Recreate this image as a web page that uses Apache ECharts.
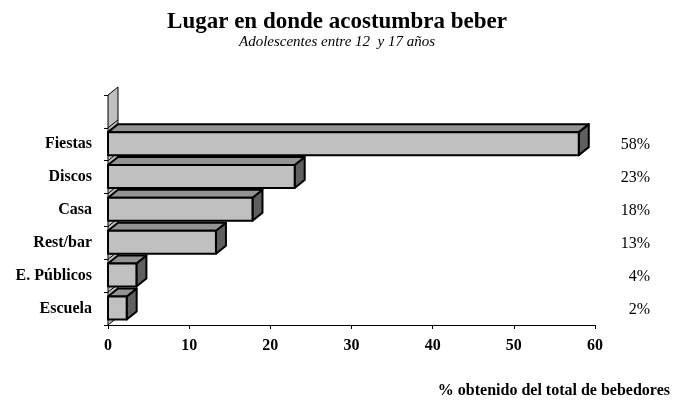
<!DOCTYPE html>
<html>
<head>
<meta charset="utf-8">
<script src="https://cdn.jsdelivr.net/npm/echarts@6/dist/echarts.min.js"></script>
<style>html,body{margin:0;padding:0;background:#fff;}#c{width:674px;height:400px;}</style>
</head>
<body>
<div id="c"></div>
<script>
// Data (top to bottom as shown)
const categories = ['Fiestas', 'Discos', 'Casa', 'Rest/bar', 'E. Públicos', 'Escuela'];
const values = [58, 23, 17.8, 13.3, 3.5, 2.3];
const pctLabels = ['58%', '23%', '18%', '13%', '4%', '2%'];
const xTicks = [0, 10, 20, 30, 40, 50, 60];

const FONT = '"Liberation Serif", "Times New Roman", serif';
const DX = 10, DY = -8;

// y category axis (bottom to top) with an empty band at top
const yCats = categories.slice().reverse().concat(['']);
const barData = categories.map((c, i) => [values[i], categories.length - 1 - i]);
const lblData = categories.map((c, i) => [0, categories.length - 1 - i, pctLabels[i]]);

const chart = echarts.init(document.getElementById('c'));
chart.setOption({
  animation: false,
  backgroundColor: '#fff',
  title: [
    {
      text: 'Lugar en donde acostumbra beber',
      subtext: 'Adolescentes entre 12  y 17 años',
      left: 'center', top: 6, itemGap: 1,
      textStyle: { fontFamily: FONT, fontWeight: 'bold', fontSize: 23, color: '#000' },
      subtextStyle: { fontFamily: FONT, fontStyle: 'italic', fontSize: 15, color: '#000' }
    },
    {
      text: '% obtenido del total de bebedores',
      right: 4, bottom: 1, padding: 0,
      textStyle: { fontFamily: FONT, fontWeight: 'bold', fontSize: 16, color: '#000' }
    }
  ],
  grid: { left: 108, right: 79, top: 95, bottom: 75, containLabel: false },
  xAxis: {
    type: 'value', min: xTicks[0], max: xTicks[xTicks.length - 1], interval: 10,
    axisLine: { show: true, lineStyle: { color: '#000', width: 1 } },
    axisTick: { show: true, length: 4, lineStyle: { color: '#000' } },
    axisLabel: { fontFamily: FONT, fontWeight: 'bold', fontSize: 16, color: '#000', margin: 13 },
    splitLine: { show: false }
  },
  yAxis: {
    type: 'category', data: yCats,
    axisLine: { show: true, lineStyle: { color: '#000', width: 1 } },
    axisTick: { show: true, length: 4, lineStyle: { color: '#000' } },
    axisLabel: { fontFamily: FONT, fontWeight: 'bold', fontSize: 16, color: '#000', margin: 16 },
    splitLine: { show: false }
  },
  series: [
    {
      type: 'custom', z: 1, silent: true,
      data: [[0, 0]],
      renderItem: function (params, api) {
        const cs = params.coordSys;
        const x = cs.x, y = cs.y, h = cs.height;
        const n = yCats.length;
        const bw = h / n;
        const children = [{
          type: 'polygon',
          shape: { points: [[x, y], [x + DX, y + DY], [x + DX, y + h + DY], [x, y + h]] },
          style: { fill: '#c0c0c0', stroke: '#000', lineWidth: 1 }
        }];
        for (let k = 1; k < n; k++) {
          const yy = y + k * bw;
          children.push({
            type: 'line',
            shape: { x1: x, y1: yy, x2: x + DX, y2: yy + DY },
            style: { stroke: '#000', lineWidth: 1 }
          });
        }
        return { type: 'group', children: children };
      }
    },
    {
      type: 'custom', z: 2, silent: true,
      encode: { x: 0, y: 1 },
      data: barData,
      renderItem: function (params, api) {
        const v = api.value(0), c = api.value(1);
        const p0 = api.coord([0, c]);
        const p1 = api.coord([v, c]);
        const bw = api.size([0, 1])[1];
        const top = p0[1] - bw * 0.37;
        const bot = p0[1] + bw * 0.33;
        const x0 = p0[0], x1 = p1[0];
        const st = { stroke: '#000', lineWidth: 2, lineJoin: 'round' };
        return {
          type: 'group',
          children: [
            { type: 'polygon', shape: { points: [[x1, top], [x1 + DX, top + DY], [x1 + DX, bot + DY], [x1, bot]] },
              style: Object.assign({ fill: '#5f5f5f' }, st) },
            { type: 'polygon', shape: { points: [[x0, top], [x0 + DX, top + DY], [x1 + DX, top + DY], [x1, top]] },
              style: Object.assign({ fill: '#939393' }, st) },
            { type: 'rect', shape: { x: x0, y: top, width: x1 - x0, height: bot - top },
              style: Object.assign({ fill: '#c0c0c0' }, st) }
          ]
        };
      }
    },
    {
      type: 'custom', z: 3, silent: true,
      encode: { x: 0, y: 1 },
      data: lblData,
      renderItem: function (params, api) {
        const cs = params.coordSys;
        const c = api.value(1);
        const p = api.coord([0, c]);
        return {
          type: 'text',
          style: {
            x: cs.x + cs.width + 55, y: p[1] + 1,
            text: lblData[params.dataIndex][2],
            align: 'right', verticalAlign: 'middle',
            font: '16px ' + FONT, fill: '#000'
          }
        };
      }
    }
  ]
});
</script>
</body>
</html>
